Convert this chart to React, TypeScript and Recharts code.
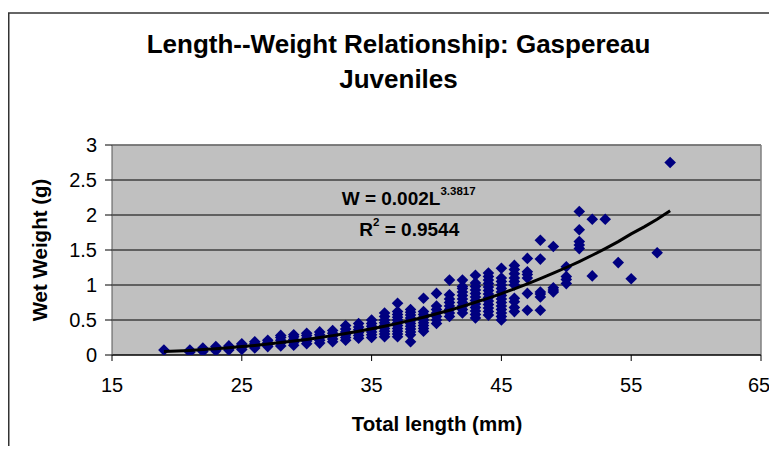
import React from 'react';
import { ScatterChart, Scatter, XAxis, YAxis, CartesianGrid, ReferenceLine } from 'recharts';

// Total length (mm) of each group of fish
const lengthsMm = [19, 21, 22, 23, 24, 25, 26, 27, 28, 29, 30, 31, 32, 33, 34, 35, 36, 37, 38, 39, 40, 41, 42, 43, 44, 45, 46, 47, 48, 49, 50, 51, 52, 53, 54, 55, 57, 58];

// Wet weights (g) observed at each length above
const weightsByLength = [
  [0.07],
  [0.04, 0.07],
  [0.05, 0.08, 0.1],
  [0.06, 0.09, 0.12],
  [0.07, 0.1, 0.13],
  [0.08, 0.11, 0.14, 0.16],
  [0.1, 0.13, 0.16, 0.19],
  [0.12, 0.15, 0.18, 0.21],
  [0.13, 0.17, 0.21, 0.25, 0.28],
  [0.14, 0.18, 0.22, 0.26, 0.29],
  [0.16, 0.2, 0.24, 0.28, 0.31],
  [0.17, 0.21, 0.25, 0.29, 0.33],
  [0.19, 0.23, 0.27, 0.31, 0.35],
  [0.21, 0.25, 0.29, 0.33, 0.37, 0.42],
  [0.24, 0.28, 0.32, 0.36, 0.4, 0.45],
  [0.25, 0.29, 0.33, 0.37, 0.41, 0.45, 0.5],
  [0.26, 0.3, 0.34, 0.38, 0.42, 0.46, 0.5, 0.55, 0.6],
  [0.26, 0.3, 0.34, 0.38, 0.42, 0.46, 0.5, 0.54, 0.58, 0.62, 0.74],
  [0.19, 0.29, 0.33, 0.37, 0.41, 0.45, 0.49, 0.53, 0.57, 0.61, 0.65],
  [0.34, 0.38, 0.42, 0.46, 0.5, 0.54, 0.58, 0.62, 0.81],
  [0.45, 0.5, 0.55, 0.6, 0.65, 0.7, 0.88],
  [0.55, 0.6, 0.65, 0.7, 0.75, 0.8, 0.86, 1.07],
  [0.6, 0.65, 0.7, 0.75, 0.8, 0.85, 0.9, 0.95, 0.98, 1.07],
  [0.53, 0.58, 0.63, 0.68, 0.73, 0.78, 0.83, 0.88, 0.93, 0.98, 1.03, 1.14],
  [0.57, 0.62, 0.67, 0.72, 0.77, 0.82, 0.87, 0.92, 0.97, 1.02, 1.07, 1.12, 1.17],
  [0.5, 0.55, 0.6, 0.65, 0.7, 0.75, 0.8, 0.85, 0.9, 0.95, 1.0, 1.05, 1.1, 1.24],
  [0.62, 0.68, 0.76, 0.81, 1.0, 1.05, 1.1, 1.16, 1.22, 1.28],
  [0.64, 0.88, 1.1, 1.15, 1.19, 1.38],
  [0.64, 0.83, 0.87, 0.9, 1.37, 1.64],
  [0.9, 0.93, 0.96, 1.55],
  [1.02, 1.08, 1.12, 1.26],
  [1.52, 1.57, 1.62, 1.79, 2.05],
  [1.13, 1.94],
  [1.94],
  [1.32],
  [1.09],
  [1.46],
  [2.75],
];

// Power trendline
const trendLengths = [19, 20, 21, 22, 23, 24, 25, 26, 27, 28, 29, 30, 31, 32, 33, 34, 35, 36, 37, 38, 39, 40, 41, 42, 43, 44, 45, 46, 47, 48, 49, 50, 51, 52, 53, 54, 55, 56, 57, 58];
const trendWeights = [0.05, 0.056, 0.066, 0.077, 0.089, 0.104, 0.12, 0.137, 0.157, 0.178, 0.2, 0.223, 0.25, 0.277, 0.307, 0.34, 0.375, 0.412, 0.452, 0.495, 0.54, 0.589, 0.64, 0.695, 0.753, 0.813, 0.877, 0.945, 1.016, 1.09, 1.168, 1.25, 1.335, 1.425, 1.52, 1.62, 1.73, 1.83, 1.94, 2.06];

const xTicks = [15, 25, 35, 45, 55, 65];
const yTicks = [0, 0.5, 1, 1.5, 2, 2.5, 3];

const titleLines = ['Length--Weight Relationship: Gaspereau', 'Juveniles'];
const xTitle = 'Total length (mm)';
const yTitle = 'Wet Weight (g)';

const points = lengthsMm.flatMap((len, i) => weightsByLength[i].map((w) => ({ x: len, y: w })));
const trend = trendLengths.map((len, i) => ({ x: len, y: trendWeights[i] }));

const FONT = "'Liberation Sans', Arial, sans-serif";

const Diamond = (props: any) => {
  const { cx, cy } = props;
  if (cx == null || cy == null) return <g />;
  const r = 5.8;
  return <path d={`M${cx},${cy - r}L${cx + r},${cy}L${cx},${cy + r}L${cx - r},${cy}Z`} fill="#000080" />;
};

const NoShape = () => <g />;

export default function App() {
  const W = 761;
  const H = 438;
  return (
    <div style={{ position: 'relative', width: W, height: H, background: '#fff' }}>
      <style>{'.recharts-surface, .recharts-wrapper { overflow: visible !important; }'}</style>
      <ScatterChart width={W} height={H} margin={{ top: 137, right: 8, bottom: 51, left: 40 }}>
        <CartesianGrid vertical={false} stroke="#000" fill="#C0C0C0" fillOpacity={1} />
        <XAxis
          type="number"
          dataKey="x"
          domain={[15, 65]}
          ticks={xTicks}
          allowDataOverflow
          height={40}
          tickSize={6}
          tickMargin={17}
          axisLine={{ stroke: '#000' }}
          tickLine={{ stroke: '#000' }}
          tick={{ fill: '#000', fontSize: 20, fontFamily: FONT }}
        />
        <YAxis
          type="number"
          dataKey="y"
          domain={[0, 3]}
          ticks={yTicks}
          allowDataOverflow
          width={64}
          tickSize={7}
          tickMargin={8}
          axisLine={{ stroke: '#555' }}
          tickLine={{ stroke: '#000' }}
          tick={{ fill: '#000', fontSize: 20, fontFamily: FONT }}
        />
        <ReferenceLine y={3} stroke="#808080" strokeWidth={1.5} />
        <ReferenceLine x={65} stroke="#808080" strokeWidth={1.5} />
        <Scatter data={points} shape={Diamond} isAnimationActive={false} />
        <Scatter data={trend} shape={NoShape} line={{ stroke: '#000', strokeWidth: 3 }} isAnimationActive={false} />
      </ScatterChart>
      <svg
        width={W}
        height={H}
        style={{ position: 'absolute', left: 0, top: 0, pointerEvents: 'none', overflow: 'visible' }}
        fontFamily={FONT}
      >
        <line x1={0} y1={5} x2={W + 8} y2={5} stroke="#333" strokeWidth={1.5} />
        <line x1={0.75} y1={5} x2={0.75} y2={H + 8} stroke="#333" strokeWidth={1.5} />
        <text x={390.5} y={45} textAnchor="middle" fontSize={26} fontWeight="bold" fill="#000">{titleLines[0]}</text>
        <text x={390.5} y={80} textAnchor="middle" fontSize={26} fontWeight="bold" fill="#000">{titleLines[1]}</text>
        <text x={429} y={423} textAnchor="middle" fontSize={20.5} fontWeight="bold" fill="#000">{xTitle}</text>
        <text x={39} y={242} textAnchor="middle" fontSize={20.5} fontWeight="bold" fill="#000" transform="rotate(-90, 39, 242)">{yTitle}</text>
        <text x={333.7} y={197} fontSize={19} fontWeight="bold" fill="#000">
          W = 0.002L
          <tspan dy={-10} fontSize={11.5}>3.3817</tspan>
        </text>
        <text x={351.3} y={228} fontSize={19} fontWeight="bold" fill="#000">
          R<tspan dy={-10} fontSize={11.5}>2</tspan>
          <tspan dy={10} fontSize={19}>{' = 0.9544'}</tspan>
        </text>
      </svg>
    </div>
  );
}
